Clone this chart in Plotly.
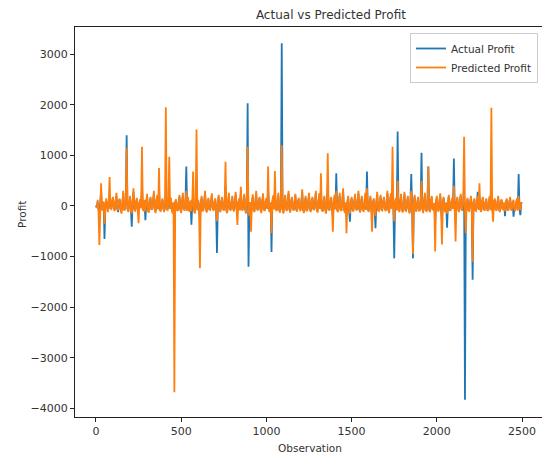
import plotly.graph_objects as go

# Observation index (every 5th observation)
observation = list(range(0, 2505, 5))

# Actual profit, estimated from the chart (one row = 100 observations)
actual = [
    10, -30, 80, -70, -200, 50, 300, -60, -50, 70, -650, -40, 100, 30, -80, 60, 200, -40, -40, 90,
    150, -60, -60, 70, 200, -50, -120, 100, 100, -60, -100, 50, 250, -70, -40, 80, 1400, -50, -90, 60,
    120, -60, -410, 90, 280, -50, -80, 60, 130, -70, -100, 60, 110, -40, 400, -60, -60, 100, -280, 50,
    200, -80, -90, 60, 150, -50, -40, 70, 250, -60, -100, 90, 180, -60, 300, -70, -70, 50, 120, -40,
    -90, 60, 200, -60, -60, 80, 200, -50, 130, -70, -110, 60, -200, 70, 100, -60, -80, 50, 180, -60,
    -100, 70, 200, -50, -60, 60, 780, -80, 150, -60, -90, 90, -370, 50, 200, -60, -110, 60, 300, -70,
    90, -50, -300, 60, 150, -70, -60, 60, 250, -50, -100, 80, 120, -60, -60, 70, 200, -40, -70, 60,
    110, -70, -930, 50, 180, -60, -90, 70, 150, -50, -60, 60, 400, -80, -100, 60, 200, -60, -60, 50,
    160, -50, -80, 80, 220, -60, -100, 60, 120, -70, 300, -50, -70, 60, 200, -60, -110, 70, 2030, -1200,
    -60, 60, -100, 50, 180, -70, -90, 60, 250, -50, -70, 80, 150, -60, -100, 50, 200, -60, -80, 70,
    130, -50, 300, -60, -90, 60, -910, 70, 170, -60, 300, -50, -80, 60, 200, -70, -100, 50, 3215, -60,
    -120, 70, 180, -50, -70, 60, 250, -60, -100, 80, 150, -50, -60, 60, 200, -60, -80, 70, 130, -50,
    -70, 60, 280, -60, -100, 50, 160, -70, -60, 60, 210, -60, -90, 80, 150, -50, -60, 70, 250, -60,
    -100, 60, 200, -50, 300, -70, -80, 60, 160, -60, -110, 50, 400, -60, -70, 70, 150, -50, -200, 60,
    170, -60, 645, -70, -90, 50, 200, -60, -70, 70, 280, -50, -100, 60, -200, 60, 160, -70, -310, 50,
    140, -60, -80, 60, 200, -50, -70, 80, 250, -60, -100, 60, 160, -70, -80, 50, 200, -60, 680, -60,
    -90, 70, 160, -50, -200, 60, 120, -60, -440, 50, 230, -70, -70, 60, 180, -60, -60, 80, 140, -50,
    -80, 60, 250, -60, -100, 70, 200, -50, 400, -60, -1035, 60, 120, -70, 1470, -50, -90, 60, 200, -60,
    -100, 50, 230, -70, -80, 60, 160, -60, -120, 70, 630, -50, -1035, 60, 180, -60, -80, 50, 150, -70,
    -70, 60, 1050, -50, -100, 60, 210, -70, -80, 50, 780, -60, -90, 70, 160, -60, -60, 50, -300, 60,
    160, -60, -80, 70, 200, -50, -300, 60, 150, -70, -90, 60, -430, 50, 180, -60, -70, 70, 130, -50,
    940, -60, -300, 60, 150, -50, -90, 70, 200, -60, -70, 60, 400, -3830, -100, 60, 130, -70, -80, 50,
    160, -60, -1460, 60, 120, -70, -80, 50, 280, -60, 200, -50, -90, 60, 150, -60, -70, 70, 120, -50,
    -80, 60, 160, -70, 300, -50, -100, 60, 120, -60, -70, 50, 160, -60, -90, 70, 110, -50, -60, 60,
    -200, 50, 120, -60, -60, 60, 150, -50, -70, 60, -210, -50, -80, 60, 120, -70, 630, -60, -180, 50,
    40,
]

# Predicted profit, estimated from the chart (one row = 100 observations)
predicted = [
    0, -40, 120, -90, -770, 60, 450, -70, -80, 90, -350, -60, 150, 40, -120, 80, 570, -50, -60, 110,
    180, -70, -100, 90, 260, -60, -90, 120, 140, -80, -150, 60, 300, -90, -70, 100, 1150, -60, -120, 70,
    200, -80, -150, 110, 350, -60, -110, 80, 160, -90, -340, 70, 140, -50, 1170, -80, -90, 120, -100, 60,
    240, -100, -130, 70, 180, -60, -60, 90, 300, -80, -140, 110, 220, -70, 750, -90, -100, 60, 150, -50,
    -120, 80, 1950, -70, -80, 100, 975, -60, 160, -90, -150, 70, -3680, 90, 130, -80, -100, 60, 220, -70,
    -140, 90, 260, -60, -90, 80, 300, -100, 180, -70, -120, 110, -100, 60, 680, -80, -150, 70, 1510, -90,
    120, -60, -1230, 80, 200, -90, -90, 70, 300, -60, -130, 100, 160, -70, -80, 90, 250, -50, -100, 80,
    150, -90, -300, 60, 220, -80, -120, 90, 180, -60, -90, 70, 875, -100, -140, 80, 260, -70, -80, 60,
    200, -60, -110, 100, 280, -80, -375, 70, 150, -90, 380, -60, -90, 80, 240, -70, -150, 90, 1170, -60,
    -200, 80, -510, 60, 230, -90, -120, 70, 300, -60, -90, 100, 180, -80, -140, 60, 250, -70, -100, 90,
    160, -60, 780, -80, -120, 70, -540, 90, 210, -70, 690, -60, -100, 80, 260, -90, -130, 60, 1200, -70,
    -150, 90, 220, -60, -100, 80, 300, -70, -130, 100, 180, -60, -90, 70, 240, -80, -110, 90, 160, -60,
    -100, 70, 330, -80, -140, 60, 200, -90, -90, 80, 260, -70, -120, 100, 180, -60, -80, 90, 300, -70,
    -130, 80, 250, -60, 645, -90, -100, 70, 200, -80, -150, 60, 1040, -70, -90, 90, 180, -60, -510, 80,
    220, -70, 300, -90, -120, 60, 260, -80, -100, 90, 350, -60, -140, 70, -540, 80, 200, -90, -150, 60,
    180, -80, -110, 70, 240, -60, -90, 100, 300, -70, -130, 80, 200, -90, -100, 60, 260, -80, 350, -70,
    -120, 90, 200, -60, -510, 80, 150, -70, -200, 60, 280, -90, -100, 70, 220, -80, -90, 100, 180, -60,
    -100, 70, 300, -80, -140, 90, 250, -60, 1170, -70, -300, 80, 160, -90, 500, -60, -120, 70, 240, -80,
    -130, 60, 280, -90, -100, 80, 200, -70, -150, 90, 300, -60, -950, 70, 220, -80, -110, 60, 180, -90,
    -90, 80, 500, -60, -140, 70, 260, -90, -100, 60, 780, -80, -120, 90, 200, -70, -80, 60, -900, 80,
    200, -70, -110, 90, 250, -60, -760, 80, 180, -90, -120, 70, -150, 60, 220, -80, -100, 90, 160, -60,
    400, -80, -700, 70, 180, -60, -120, 90, 240, -70, -90, 80, 1370, -60, -540, 70, 160, -90, -100, 60,
    200, -70, -1100, 80, 150, -90, -100, 60, 200, -80, 450, -60, -120, 90, 180, -70, -90, 60, 150, -80,
    -100, 70, 200, -90, 1940, -60, -310, 80, 150, -70, -90, 60, 200, -80, -120, 90, 130, -60, -80, 70,
    -100, 60, 150, -80, -80, 70, 180, -60, -90, 80, 120, -70, -100, 60, 150, -90, 200, -60, -80, 70,
    50,
]

x_ticks = [0, 500, 1000, 1500, 2000, 2500]
y_ticks = [-4000, -3000, -2000, -1000, 0, 1000, 2000, 3000]

fig = go.Figure()
fig.add_trace(go.Scatter(x=observation, y=actual, mode="lines", name="Actual Profit",
                         line=dict(color="#1f77b4", width=1.8)))
fig.add_trace(go.Scatter(x=observation, y=predicted, mode="lines", name="Predicted Profit",
                         line=dict(color="#ff7f0e", width=1.8)))

W, H = 542, 454
L, R, T, B = 75, 0, 27, 37
pw, ph = W - L - R, H - T - B

axis_common = dict(showgrid=False, zeroline=False, showline=True, linecolor="#222",
                   linewidth=1, mirror=True, ticks="outside", ticklen=4, tickwidth=1,
                   tickcolor="#222", tickfont=dict(size=11, color="#333"))

fig.update_layout(
    width=W, height=H,
    margin=dict(l=L, r=R, t=T, b=B),
    plot_bgcolor="white", paper_bgcolor="white",
    font=dict(family="DejaVu Sans", color="#333"),
    title=dict(text="Actual vs Predicted Profit", x=297 / W, xref="paper", xanchor="center",
               y=1 - 15 / H, yanchor="middle", font=dict(size=12, color="#333")),
    xaxis=dict(range=[-123, 2617], tickvals=x_ticks, **axis_common),
    yaxis=dict(range=[-4170, 3537], tickvals=y_ticks, **axis_common),
    legend=dict(x=(538 - L) / pw, y=(417 - 33) / ph, xanchor="right", yanchor="top",
                bgcolor="white", bordercolor="#cccccc", borderwidth=1,
                font=dict(size=10.5, color="#333"), tracegroupgap=0),
    showlegend=True,
    annotations=[
        dict(text="Observation", xref="paper", yref="paper",
             x=(310 - L) / pw, y=(H - B - 448) / ph, xanchor="center", yanchor="middle",
             showarrow=False, font=dict(size=10.5, color="#333")),
        dict(text="Profit", xref="paper", yref="paper",
             x=(22 - L) / pw, y=(H - B - 215) / ph, xanchor="center", yanchor="middle",
             showarrow=False, textangle=-90, font=dict(size=10.5, color="#333")),
    ],
)

fig.write_html("out.html", config={"displayModeBar": False},
               post_script="document.body.style.margin='0';")
